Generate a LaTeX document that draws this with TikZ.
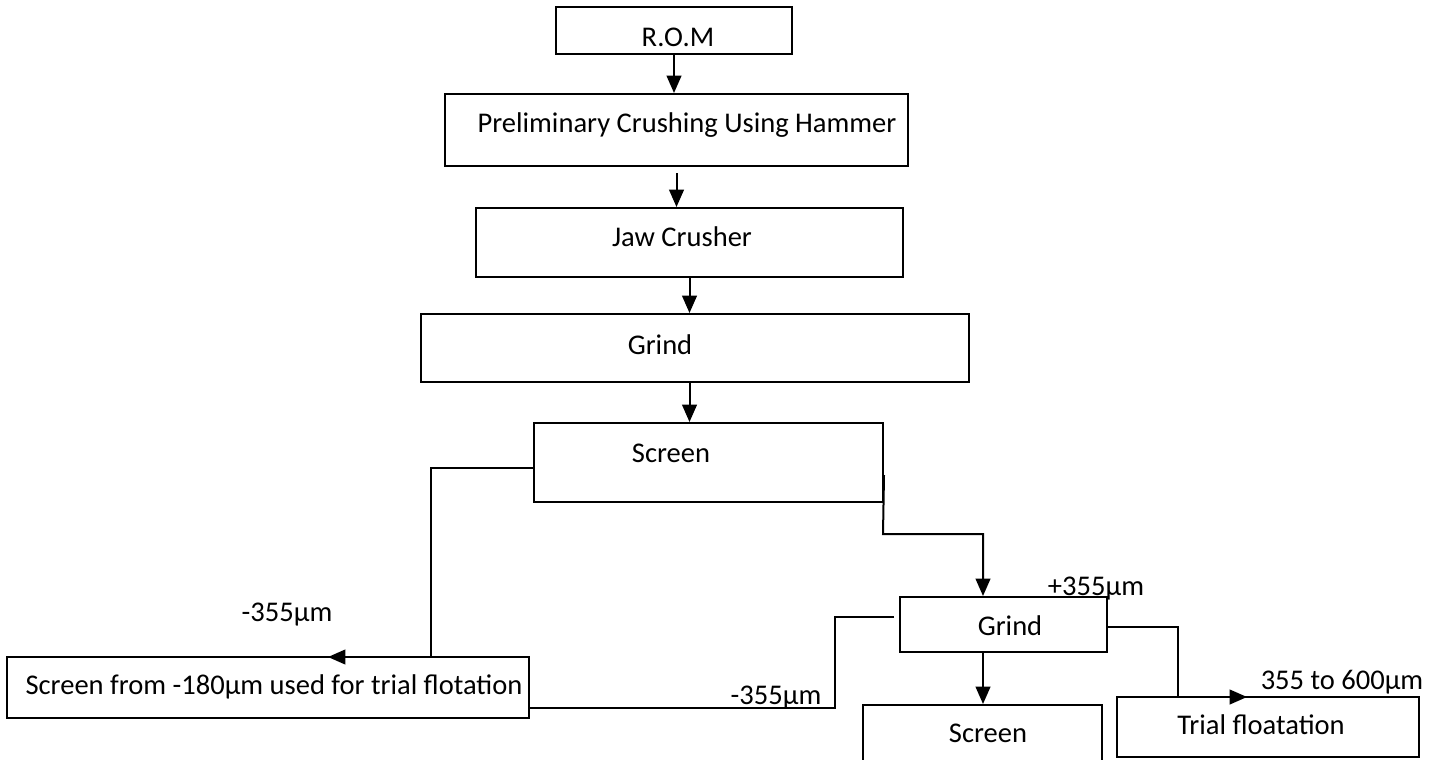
\documentclass[tikz,border=0pt]{standalone}
\usepackage{fontspec}
\setmainfont{Carlito}
\usetikzlibrary{arrows.meta,fit}
\begin{document}
\begin{tikzpicture}[x=0.75pt,y=-0.75pt,
  box/.style={draw, line width=1.5pt, inner sep=0pt},
  lbl/.style={inner sep=0pt, text height=13.8pt, text depth=0pt, font=\fontsize{21.4}{25}\selectfont},
  conn/.style={line width=1.5pt},
  arr/.style={conn, -{Triangle[length=13pt,width=11pt]}}]
\useasboundingbox (0,0) rectangle (1442,760);
\clip (0,0) rectangle (1442,760);
% boxes
\node[box, fit={(556,7) (792,54)}] (rom) {};
\node[box, fit={(445,94) (908,166)}] (prelim) {};
\node[box, fit={(476,208) (903,277)}] (jaw) {};
\node[box, fit={(421,314) (969,382)}] (grindA) {};
\node[box, fit={(534,423) (883,502)}] (screenA) {};
\node[box, fit={(7,657) (529,718)}] (sfrom) {};
\node[box, fit={(900,597) (1107,652)}] (grindB) {};
\node[box, fit={(863,705) (1102,775)}] (screenB) {};
\node[box, fit={(1117,697) (1419,757)}] (trial) {};
% texts
\node[lbl] (tRom) at (678,37) {R.O.M};
\node[lbl] (tPre) at (687,123) {Preliminary Crushing Using Hammer};
\node[lbl] (tJaw) at (682,237) {Jaw Crusher};
\node[lbl] (tGrA) at (660,345) {Grind};
\node[lbl] (tScA) at (671,453) {Screen};
\node[lbl] (tM1) at (287,612) {-355µm};
\node[lbl] (tSfr) at (274,685) {Screen from -180µm used for trial flotation};
\node[lbl] (tP) at (1096,586) {+355µm};
\node[lbl] (tGrB) at (1010,626) {Grind};
\node[lbl] (tM2) at (776,695) {-355µm};
\node[lbl] (tScB) at (988,733) {Screen};
\node[lbl] (tTri) at (1261,725) {Trial floatation};
\node[lbl] (tRng) at (1342,680) {355 to 600µm};
% free ends
\coordinate (tipL) at (328,657);
\coordinate (tipR) at (1247,697);
% connectors
\draw[arr] (rom.south) -- (rom.south |- prelim.north);
\draw[arr] (prelim.south) ++(0,6) -- (prelim.south |- jaw.north);
\draw[arr] (jaw.south) -- (jaw.south |- grindA.north);
\draw[arr] (jaw.south |- grindA.south) -- (jaw.south |- screenA.north);
\draw[arr] (screenA.west |- 0,468) -| (431,657) -- (tipL);
\draw[arr] (screenA.east |- 0,475) -- (883,534) -| (grindB.north -| 983,0);
\draw[arr] (grindB.south -| 983,0) -- (screenB.north -| 983,0);
\draw[conn] (grindB.west |- 0,617) ++(-5,0) -- (835,617) -- (835,708) -- (sfrom.east |- 0,708);
\draw[arr] (grindB.east |- 0,627) -| (1178,697) -- (tipR);
\end{tikzpicture}
\end{document}
